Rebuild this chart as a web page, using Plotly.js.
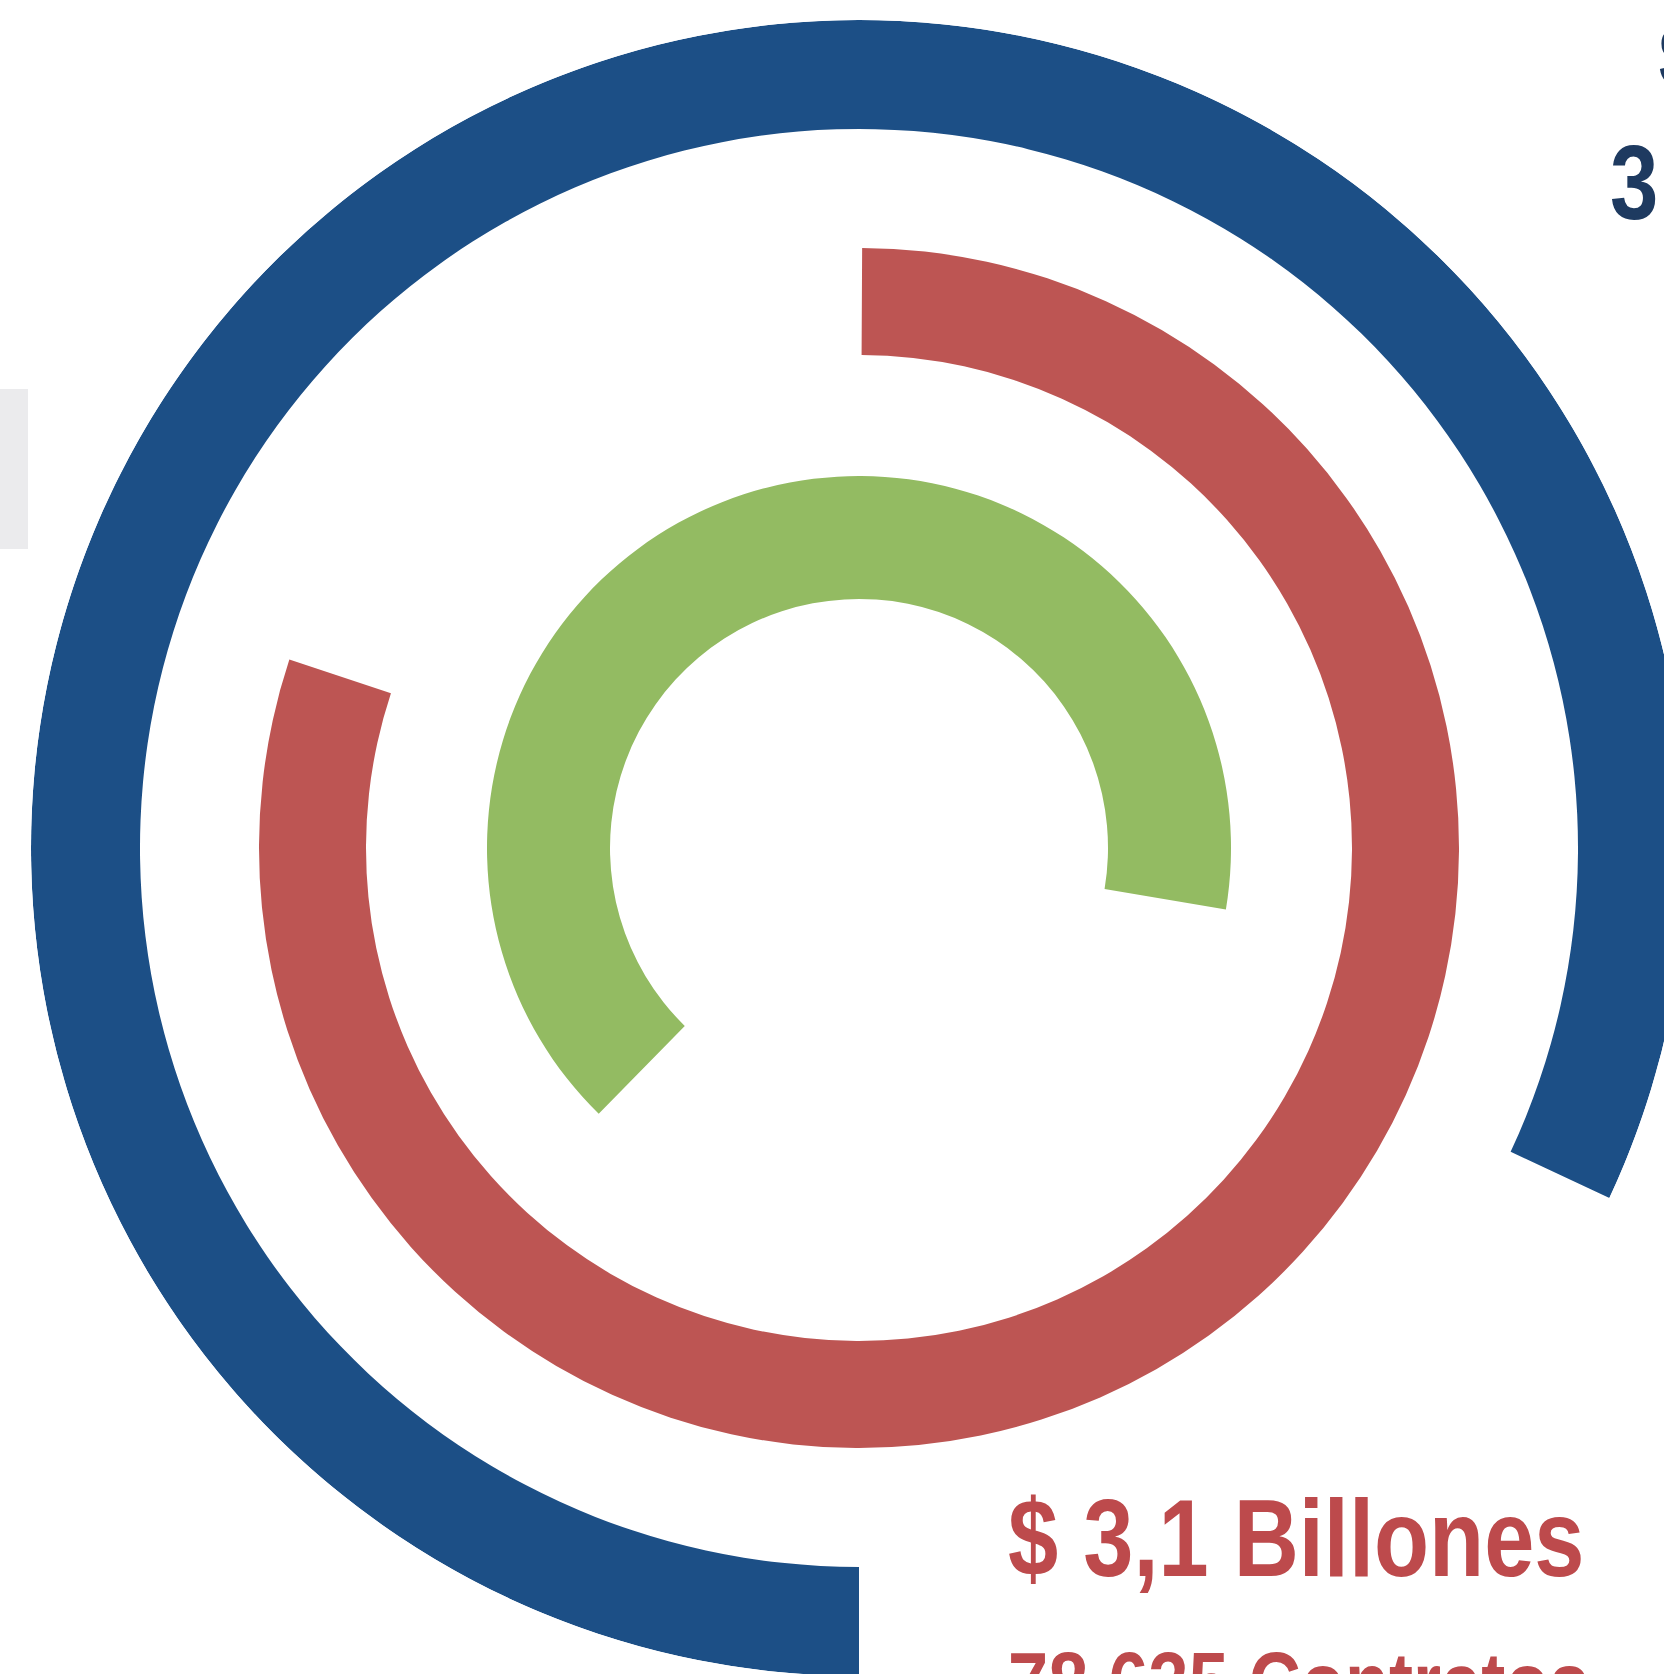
<!DOCTYPE html>
<html>
<head>
<meta charset="utf-8">
<script src="https://cdn.plot.ly/plotly-3.0.1.min.js"></script>
<style>
html, body { margin: 0; padding: 0; overflow: hidden; background: #ffffff; width: 1664px; height: 1674px; }
#chart { position: absolute; left: 0; top: 0; width: 1700px; height: 1700px; }
</style>
</head>
<body>
<div id="chart"></div>
<script>
// ---- data ----
const rings = ['Anillo exterior', 'Anillo medio', 'Anillo interior'];
const arcStartDeg = [180, 0.3, 224.4];    // clockwise from 12 o'clock
const arcSpanDeg  = [295, 288, 235.1];    // angular length of each arc
const ringColors  = ['#1c4f86', '#bd5553', '#93bb62'];
const redLabels   = ['$ 3,1 Billones', '78.635 Contratos'];
const blueLabels  = ['$', '3'];           // only these characters are visible (cut off at the right edge)

// ---- layout geometry (pixels) ----
const M = { l: 31, t: 20, size: 1656, w: 1700, h: 1700 };
const ringInner = [719, 493, 249];
const ringOuter = [828, 600, 372];
const px = x => (x - M.l) / M.size;
const py = y => 1 - (y - M.t) / M.size;
const CONDENSE = 0.82;   // horizontal squeeze to imitate a bold condensed typeface

const traces = rings.map((name, i) => ({
  type: 'barpolar',
  name: name,
  theta: [arcStartDeg[i] + arcSpanDeg[i] / 2],
  width: [arcSpanDeg[i]],
  base: [ringInner[i]],
  r: [ringOuter[i] - ringInner[i]],
  marker: { color: ringColors[i], line: { width: 0 } },
  hoverinfo: 'skip',
  showlegend: false
}));

const textFont = "'Liberation Sans', Arial, sans-serif";

const layout = {
  width: M.w, height: M.h,
  margin: { l: M.l, t: M.t, r: M.w - M.l - M.size, b: M.h - M.t - M.size, pad: 0 },
  paper_bgcolor: '#ffffff',
  plot_bgcolor: '#ffffff',
  showlegend: false,
  polar: {
    domain: { x: [0, 1], y: [0, 1] },
    bgcolor: 'rgba(0,0,0,0)',
    bargap: 0,
    radialaxis: { range: [0, ringOuter[0]], visible: false, showgrid: false, showline: false, showticklabels: false, ticks: '' },
    angularaxis: { direction: 'clockwise', rotation: 90, visible: false, showgrid: false, showline: false, showticklabels: false, ticks: '' }
  },
  shapes: [
    { type: 'rect', xref: 'paper', yref: 'paper', x0: px(-5), x1: px(28), y0: py(549), y1: py(389),
      fillcolor: '#ebebed', line: { width: 0 }, layer: 'below' }
  ],
  annotations: [
    { text: redLabels[0], xref: 'paper', yref: 'paper', x: px(1006), y: py(1537), xanchor: 'left', yanchor: 'middle',
      showarrow: false, font: { family: textFont, size: 110, color: '#bd4a4c', weight: 'bold' } },
    { text: redLabels[1], xref: 'paper', yref: 'paper', x: px(1006), y: py(1682), xanchor: 'left', yanchor: 'middle',
      showarrow: false, font: { family: textFont, size: 88, color: '#bd4a4c', weight: 'bold' } },
    { text: blueLabels[0], xref: 'paper', yref: 'paper', x: px(1657), y: py(57), xanchor: 'left', yanchor: 'middle',
      showarrow: false, font: { family: textFont, size: 84, color: '#1e3a60', weight: 'bold' } },
    { text: blueLabels[1], xref: 'paper', yref: 'paper', x: px(1608), y: py(182), xanchor: 'left', yanchor: 'middle',
      showarrow: false, font: { family: textFont, size: 106, color: '#1e3a60', weight: 'bold' } }
  ]
};

Plotly.newPlot('chart', traces, layout, { displayModeBar: false, staticPlot: true }).then(gd => {
  gd.querySelectorAll('.annotation-text').forEach(el => {
    const bb = el.getBBox();
    const t = el.getAttribute('transform') || '';
    el.setAttribute('transform', `${t} translate(${bb.x},0) scale(${CONDENSE},1) translate(${-bb.x},0)`.trim());
  });
});
</script>
</body>
</html>
